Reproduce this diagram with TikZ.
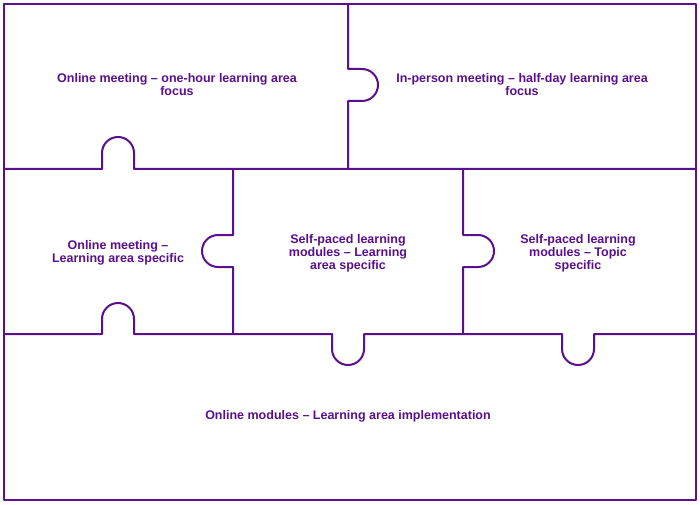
\documentclass[tikz,border=0pt]{standalone}
\usepackage{fontspec}
\setmainfont{Liberation Sans}
\usepackage{xcolor}
\definecolor{puzzlepurple}{HTML}{5A0F8C}
\begin{document}
\begin{tikzpicture}[x=1pt, y=1pt, line width=2pt, line join=round,
    edge/.style={draw=puzzlepurple},
    label/.style={text=puzzlepurple, font=\bfseries\fontsize{12.5}{13}\selectfont, align=center}]
    \useasboundingbox (0,0) rectangle (700,504);
    \fill[white] (0,0) rectangle (700,504);
    % frame
    \draw[edge] (4,4) rectangle (696,500);
    % upper seam with tab
    \draw[edge] (4,335) -- (102,335) -- (102,351) arc[start angle=180, end angle=0, radius=16]
        -- (134,335) -- (696,335);
    % lower seam with tabs
    \draw[edge] (4,170) -- (102,170) -- (102,185) arc[start angle=180, end angle=0, radius=16]
        -- (134,170) -- (332,170) -- (332,155) arc[start angle=180, end angle=360, radius=16]
        -- (364,170) -- (562,170) -- (562,155) arc[start angle=180, end angle=360, radius=16]
        -- (594,170) -- (696,170);
    % vertical seams
    \draw[edge] (348,500) -- (348,435) -- (362,435) arc[start angle=90, end angle=-90, radius=16]
        -- (348,403) -- (348,335);
    \draw[edge] (233,335) -- (233,269) -- (218,269) arc[start angle=90, end angle=270, radius=16]
        -- (233,237) -- (233,170);
    \draw[edge] (463,335) -- (463,269) -- (478,269) arc[start angle=90, end angle=-90, radius=16]
        -- (463,237) -- (463,170);
    % labels
    \node[label] (online_hour) at (177,419) {Online meeting -- one-hour learning area\\focus};
    \node[label] (inperson) at (522,419) {In-person meeting -- half-day learning area\\focus};
    \node[label] (online_specific) at (118,251) {Online meeting --\\Learning area specific};
    \node[label] (selfpaced_area) at (348,251) {Self-paced learning\\modules -- Learning\\area specific};
    \node[label] (selfpaced_topic) at (578,251) {Self-paced learning\\modules -- Topic\\specific};
    \node[label] (online_modules) at (348,88) {Online modules -- Learning area implementation};
\end{tikzpicture}
\end{document}
